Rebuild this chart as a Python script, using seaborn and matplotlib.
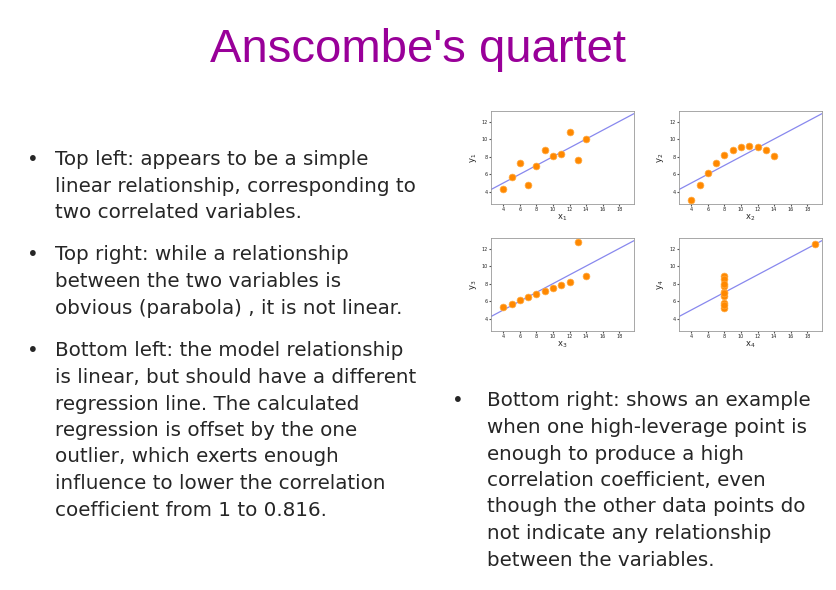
import matplotlib
matplotlib.use("Agg")
import matplotlib.pyplot as plt
import seaborn as sns
import pandas as pd

x123 = [10, 8, 13, 9, 11, 14, 6, 4, 12, 7, 5]
y1 = [8.04, 6.95, 7.58, 8.81, 8.33, 9.96, 7.24, 4.26, 10.84, 4.82, 5.68]
y2 = [9.14, 8.14, 8.74, 8.77, 9.26, 8.10, 6.13, 3.10, 9.13, 7.26, 4.74]
y3 = [7.46, 6.77, 12.74, 7.11, 7.81, 8.84, 6.08, 5.39, 8.15, 6.42, 5.73]
x4 = [8, 8, 8, 8, 8, 8, 8, 19, 8, 8, 8]
y4 = [6.58, 5.76, 7.71, 8.84, 8.47, 7.04, 5.25, 12.50, 5.56, 7.91, 6.89]
xticks = [4, 6, 8, 10, 12, 14, 16, 18]
yticks = [4, 6, 8, 10, 12]

sns.set_style("white")
W, H = 836, 590
fig = plt.figure(figsize=(W/100, H/100), dpi=100)

sets = [(x123, y1, "1"), (x123, y2, "2"), (x123, y3, "3"), (x4, y4, "4")]
pos = [(491, 111), (679, 111), (491, 238), (679, 238)]
for (xs, ys, n), (px, py) in zip(sets, pos):
    ax = fig.add_axes([px/W, 1-(py+93)/H, 143/W, 93/H])
    df = pd.DataFrame({"x": xs, "y": ys})
    ax.set_xlim(2.5, 19.8); ax.set_ylim(2.6, 13.2)
    sns.regplot(data=df, x="x", y="y", ax=ax, scatter=False, ci=None, truncate=False,
                line_kws=dict(color="#8888ee", lw=0.9))
    sns.scatterplot(data=df, x="x", y="y", ax=ax, color="#ff8800", s=24,
                    edgecolor="#ffaa40", linewidth=0.5, zorder=3)
    ax.set_xlim(2.5, 19.8); ax.set_ylim(2.6, 13.2)
    ax.set_xticks(xticks); ax.set_yticks(yticks)
    ax.tick_params(labelsize=3.5, length=1.5, pad=1, color="#555555", direction="out", bottom=True, left=True)
    ax.set_xlabel("x$_{%s}$" % n, fontsize=6, labelpad=0)
    ax.set_ylabel("y$_{%s}$" % n, fontsize=6, labelpad=2)
    for s in ax.spines.values():
        s.set_color("#999999"); s.set_linewidth(0.6)

fig.text(0.5, 1-50/H, "Anscombe's quartet", ha="center", va="center",
         fontsize=34, color="#990099", family="Liberation Sans")

fs = 14.3
ls = 26.5
def bullet(x_b, x_t, y0, lines):
    fig.text(x_b/W, 1-y0/H, "•", ha="left", va="center", fontsize=fs, family="DejaVu Sans")
    for i, l in enumerate(lines):
        fig.text(x_t/W, 1-(y0+i*ls)/H, l, ha="left", va="center", fontsize=fs, family="DejaVu Sans")

bullet(27, 55, 160, ["Top left: appears to be a simple", "linear relationship, corresponding to",
                     "two correlated variables."])
bullet(27, 55, 255, ["Top right: while a relationship", "between the two variables is",
                     "obvious (parabola) , it is not linear."])
bullet(27, 55, 351, ["Bottom left: the model relationship", "is linear, but should have a different",
                     "regression line. The calculated", "regression is offset by the one",
                     "outlier, which exerts enough", "influence to lower the correlation",
                     "coefficient from 1 to 0.816."])
bullet(452, 487, 401, ["Bottom right: shows an example", "when one high-leverage point is",
                       "enough to produce a high", "correlation coefficient, even",
                       "though the other data points do", "not indicate any relationship",
                       "between the variables."])

fig.savefig("out.png", dpi=100)
